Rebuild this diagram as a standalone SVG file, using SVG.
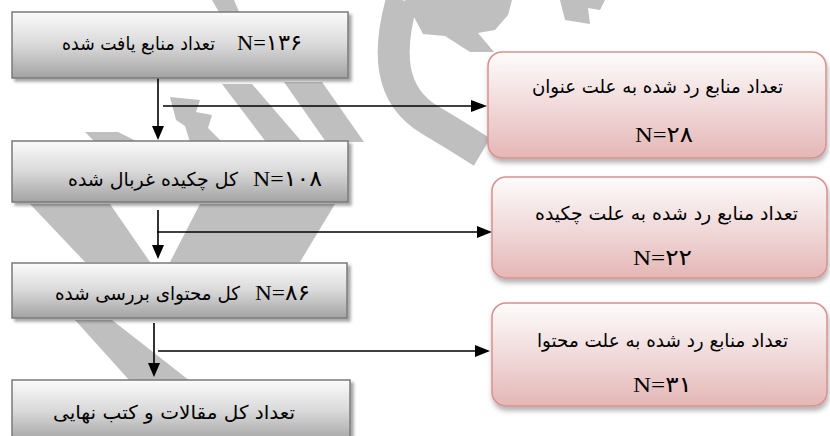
<svg xmlns="http://www.w3.org/2000/svg" width="830" height="436" viewBox="0 0 830 436">
<defs>
<linearGradient id="gGray" x1="0" y1="0" x2="0" y2="1">
<stop offset="0" stop-color="#fbfbfb"/><stop offset="0.5" stop-color="#d9d9d9"/><stop offset="1" stop-color="#a3a3a3"/>
</linearGradient>
<linearGradient id="gPink" x1="0" y1="0" x2="0" y2="1">
<stop offset="0" stop-color="#fefcfc"/><stop offset="0.5" stop-color="#f1dada"/><stop offset="1" stop-color="#e4b7b6"/>
</linearGradient>
<filter id="shGray" x="-5%" y="-10%" width="115%" height="130%">
<feDropShadow dx="3" dy="3" stdDeviation="1.5" flood-color="#000" flood-opacity="0.35"/>
</filter>
<filter id="shPink" x="-5%" y="-10%" width="115%" height="130%">
<feDropShadow dx="1" dy="4" stdDeviation="2.5" flood-color="#000" flood-opacity="0.3"/>
</filter>
<style>
.wm{fill:#bfbfbf;stroke:none}
.wms{fill:none;stroke:#bfbfbf;stroke-width:32}
.lb rect{fill:url(#gGray);stroke:#7a7a7a;stroke-width:1.5;filter:url(#shGray)}
.rb rect{fill:url(#gPink);stroke:#d9908f;stroke-width:1.5;filter:url(#shPink)}
.fa{font-family:"DejaVu Sans","Noto Sans",sans-serif;font-size:19px;fill:#000;text-anchor:middle}
.nv{font-family:"Liberation Serif","DejaVu Serif","DejaVu Sans",serif;font-size:22px;fill:#000;text-anchor:middle}
.ln{stroke:#000;stroke-width:1.6;fill:none}
.ah{fill:#000}
</style>
</defs>
<rect width="830" height="436" fill="#fff"/>
<g id="watermark">
<polygon class="wm" points="212,0 234,0 240,14 220,14"/>
<polygon class="wm" points="405,0 512,0 508,15 495,30 478,33 494,52 470,52 445,36 423,34"/>
<polygon class="wm" points="560,0 605,0 600,10 588,8 590,24 565,20"/>
<path class="wms" d="M402 0 C388 50 388 95 430 120 S472 146 482 152"/>
<polygon class="wm" points="170,97 200,100 196,112 212,115 208,128 222,142 190,142 185,126 176,120"/>
<polygon class="wm" points="222,84 252,84 302,142 266,142"/>
<polygon class="wm" points="284,82 322,82 364,142 326,142"/>
<polygon class="wm" points="85,132 118,132 138,142 95,142"/>
<polygon class="wm" points="30,204 110,204 150,262 85,262"/>
<polygon class="wm" points="200,204 335,204 300,262 170,262"/>
<polygon class="wm" points="75,320 112,320 190,381 130,381"/>
</g>
<g id="connectors">
<line class="ln" x1="158" y1="78" x2="158" y2="127"/>
<polygon class="ah" points="152,126 164,126 158,140"/>
<line class="ln" x1="163" y1="106" x2="472" y2="106"/>
<polygon class="ah" points="471,100 471,112 487,106"/>
<line class="ln" x1="158" y1="210" x2="158" y2="246"/>
<polygon class="ah" points="152,245 164,245 158,259"/>
<line class="ln" x1="157" y1="232" x2="478" y2="232"/>
<polygon class="ah" points="477,226 477,238 492,232"/>
<line class="ln" x1="154" y1="323" x2="154" y2="364"/>
<polygon class="ah" points="148,363 160,363 154,377"/>
<line class="ln" x1="158" y1="351" x2="476" y2="351"/>
<polygon class="ah" points="475,345 475,357 490,351"/>
</g>
<g id="n1" class="lb">
<rect x="12" y="12" width="336" height="66"/>
<text class="fa" x="138.5" y="50" textLength="153" lengthAdjust="spacingAndGlyphs">تعداد منابع یافت شده</text>
<text class="nv" x="269.5" y="50" textLength="65" lengthAdjust="spacingAndGlyphs">N=۱۳۶</text>
</g>
<g id="n2" class="lb">
<rect x="12" y="141" width="336" height="61"/>
<text class="fa" x="153" y="186" textLength="170" lengthAdjust="spacingAndGlyphs">کل چکیده غربال شده</text>
<text class="nv" x="287.5" y="186" textLength="69" lengthAdjust="spacingAndGlyphs">N=۱۰۸</text>
</g>
<g id="n3" class="lb">
<rect x="12" y="263" width="335" height="55"/>
<text class="fa" x="147.5" y="300" textLength="185" lengthAdjust="spacingAndGlyphs">کل محتوای بررسی شده</text>
<text class="nv" x="282.5" y="300" textLength="55" lengthAdjust="spacingAndGlyphs">N=۸۶</text>
</g>
<g id="n4" class="lb">
<rect x="12" y="380" width="338" height="62"/>
<text class="fa" x="174" y="419" textLength="242" lengthAdjust="spacingAndGlyphs">تعداد کل مقالات و کتب نهایی</text>
</g>
<g id="r1" class="rb">
<rect x="488" y="52" width="338" height="106" rx="14"/>
<text class="fa" x="657.5" y="93" textLength="251" lengthAdjust="spacingAndGlyphs">تعداد منابع رد شده به علت عنوان</text>
<text class="nv" x="664" y="142" textLength="58" lengthAdjust="spacingAndGlyphs">N=۲۸</text>
</g>
<g id="r2" class="rb">
<rect x="492" y="177" width="335" height="101" rx="14"/>
<text class="fa" x="666.5" y="220" textLength="263" lengthAdjust="spacingAndGlyphs">تعداد منابع رد شده به علت چکیده</text>
<text class="nv" x="662.5" y="265" textLength="59" lengthAdjust="spacingAndGlyphs">N=۲۲</text>
</g>
<g id="r3" class="rb">
<rect x="492" y="303" width="335" height="103" rx="14"/>
<text class="fa" x="662.5" y="347" textLength="251" lengthAdjust="spacingAndGlyphs">تعداد منابع رد شده به علت محتوا</text>
<text class="nv" x="662.5" y="392" textLength="59" lengthAdjust="spacingAndGlyphs">N=۳۱</text>
</g>
</svg>
